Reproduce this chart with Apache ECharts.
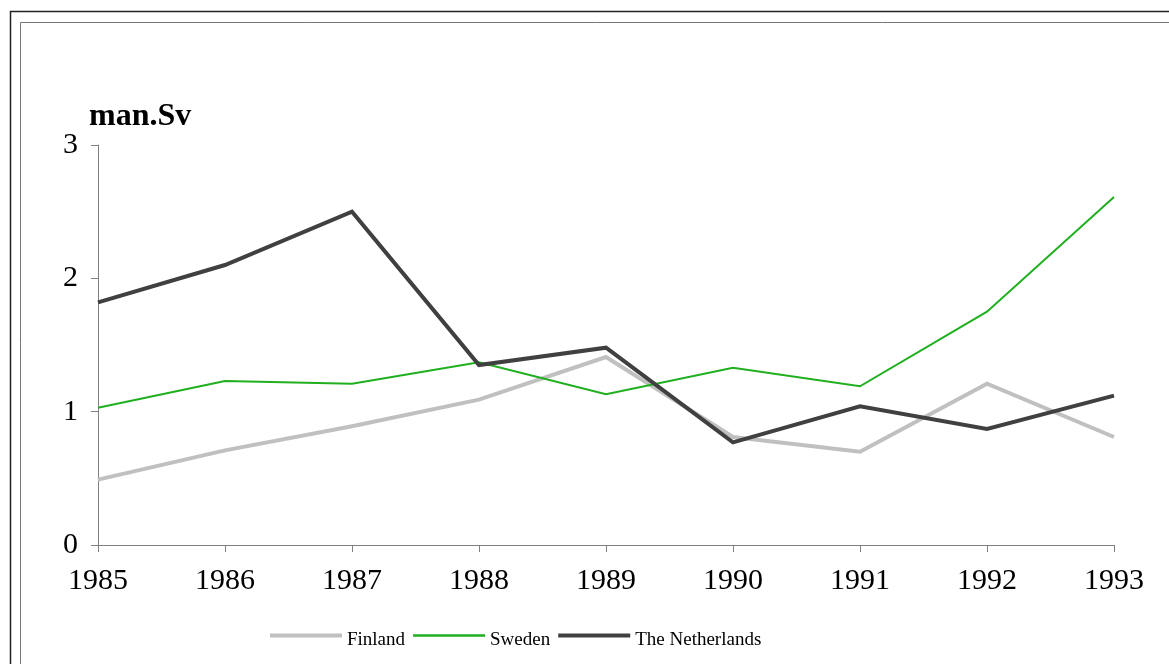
<!DOCTYPE html>
<html>
<head>
<meta charset="utf-8">
<script src="https://cdn.jsdelivr.net/npm/echarts@6/dist/echarts.min.js"></script>
<style>
  html, body { margin: 0; padding: 0; background: #fff; }
  #chart { width: 1169px; height: 664px; }
</style>
</head>
<body>
<div id="chart"></div>
<script>
// years on the x axis
const years = ['1985', '1986', '1987', '1988', '1989', '1990', '1991', '1992', '1993']

// collective dose, man.Sv
const finland = [0.49, 0.71, 0.89, 1.09, 1.41, 0.81, 0.70, 1.21, 0.81]
const sweden = [1.03, 1.23, 1.21, 1.37, 1.13, 1.33, 1.19, 1.75, 2.61]
const netherlands = [1.82, 2.10, 2.50, 1.35, 1.48, 0.77, 1.04, 0.87, 1.12]

const serif = '"Liberation Serif", "Times New Roman", serif'

const colors = { finland: '#c0c0c0', sweden: '#1faf1f', netherlands: '#404040' }

const chart = echarts.init(document.getElementById('chart'))

const lineSeries = (name, data, color, width) => ({
  name: name,
  type: 'line',
  data: data,
  symbol: 'none',
  lineStyle: { color: color, width: width, cap: 'butt', join: 'miter' },
  itemStyle: { color: color },
  emphasis: { disabled: true },
  animation: false
})

// flat bar used as legend key, thickness follows the line width
const barIcon = h => 'path://M0,0H72V' + h + 'H0Z'

chart.setOption({
  animation: false,
  // double frame round the chart
  graphic: [
    { type: 'rect', shape: { x: 10.5, y: 11.5, width: 1200, height: 700 }, style: { fill: null, stroke: '#222', lineWidth: 1.5 }, silent: true },
    { type: 'rect', shape: { x: 20.5, y: 22.5, width: 1200, height: 700 }, style: { fill: null, stroke: '#777', lineWidth: 1 }, silent: true },
    { type: 'text', left: 89, top: 101, style: { text: 'man.Sv', font: 'bold 32px ' + serif, fill: '#000' }, silent: true }
  ],
  grid: { left: 98, right: 55, top: 145, bottom: 119 },
  xAxis: {
    type: 'category',
    data: years,
    boundaryGap: false,
    axisLine: { lineStyle: { color: '#808080', width: 1 } },
    axisTick: { show: true, length: 7, lineStyle: { color: '#808080' } },
    axisLabel: { color: '#000', fontFamily: serif, fontSize: 30, margin: 21 },
    splitLine: { show: false }
  },
  yAxis: {
    type: 'value',
    min: 0,
    max: 3,
    interval: 1,
    axisLine: { show: true, lineStyle: { color: '#808080', width: 1 } },
    axisTick: { show: true, length: 7, lineStyle: { color: '#808080' } },
    axisLabel: { color: '#000', fontFamily: serif, fontSize: 30, margin: 20 },
    splitLine: { show: false }
  },
  legend: {
    left: 265,
    top: 626,
    itemWidth: 72,
    itemHeight: 22,
    itemGap: 8,
    symbolKeepAspect: true,
    selectedMode: false,
    formatter: '{t|{name}}',
    textStyle: {
      color: '#000',
      fontFamily: serif,
      fontSize: 19,
      rich: { t: { color: '#000', fontFamily: serif, fontSize: 19, padding: [10, 0, 0, 0] } }
    },
    data: [
      { name: 'Finland', icon: barIcon(4), itemStyle: { color: colors.finland } },
      { name: 'Sweden', icon: barIcon(2.5), itemStyle: { color: colors.sweden } },
      { name: 'The Netherlands', icon: barIcon(4), itemStyle: { color: colors.netherlands } }
    ]
  },
  series: [
    lineSeries('Finland', finland, colors.finland, 4),
    lineSeries('Sweden', sweden, colors.sweden, 2),
    lineSeries('The Netherlands', netherlands, colors.netherlands, 4)
  ]
})
</script>
</body>
</html>
